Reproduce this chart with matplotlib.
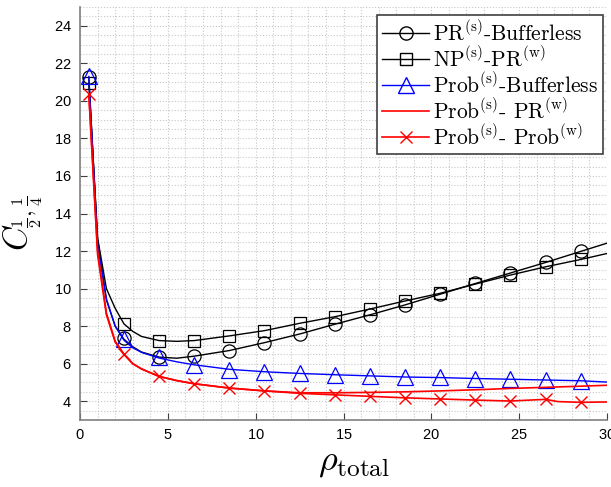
import matplotlib
matplotlib.use('Agg')
import matplotlib.pyplot as plt
from matplotlib.lines import Line2D
from matplotlib.ticker import MultipleLocator

plt.rcParams['mathtext.fontset'] = 'cm'
plt.rcParams['axes.formatter.use_mathtext'] = True

# x positions of the curves and of the markers
x_line = [0.5, 1, 1.5, 2, 2.5, 3, 3.5, 4.5, 5.5, 6.5, 8.5, 10.5, 12.5, 14.5,
          16.5, 18.5, 20.5, 22.5, 24.5, 26.5, 28.5, 30]
x_mark = [0.5, 2.5, 4.5, 6.5, 8.5, 10.5, 12.5, 14.5, 16.5, 18.5, 20.5, 22.5,
          24.5, 26.5, 28.5]

# PR(s)-Bufferless
pr_buf_line = [21.25, 12.6, 9.4, 8.0, 7.3, 6.9, 6.62, 6.35, 6.29, 6.4, 6.7, 7.12,
               7.58, 8.1, 8.6, 9.13, 9.7, 10.27, 10.83, 11.39, 11.98, 12.42]
pr_buf_mark = [21.25, 7.35, 6.35, 6.42, 6.7, 7.12, 7.58, 8.12, 8.59, 9.12, 9.71,
               10.28, 10.84, 11.39, 11.99]

# NP(s)-PR(w)
np_pr_line = [20.95, 12.7, 10.0, 8.95, 8.12, 7.72, 7.45, 7.23, 7.19, 7.23, 7.48,
              7.76, 8.15, 8.5, 8.91, 9.34, 9.75, 10.24, 10.72, 11.16, 11.55, 11.87]
np_pr_mark = [20.95, 8.12, 7.23, 7.23, 7.48, 7.76, 8.17, 8.5, 8.91, 9.34, 9.75,
              10.24, 10.72, 11.16, 11.55]

# Prob(s)-Bufferless
prob_buf_line = [21.3, 12.3, 9.45, 8.0, 7.25, 6.85, 6.6, 6.3, 6.1, 5.94, 5.7, 5.57,
                 5.48, 5.41, 5.35, 5.29, 5.26, 5.21, 5.17, 5.13, 5.09, 5.02]
prob_buf_mark = [21.3, 7.3, 6.35, 5.94, 5.67, 5.58, 5.5, 5.41, 5.35, 5.28, 5.27,
                 5.21, 5.18, 5.14, 5.1]

# Prob(s)- PR(w)
prob_pr_line = [20.35, 12.0, 8.7, 7.2, 6.5, 6.0, 5.72, 5.32, 5.1, 4.93, 4.7, 4.55,
                4.45, 4.45, 4.47, 4.5, 4.55, 4.61, 4.68, 4.74, 4.8, 4.85]

# Prob(s)- Prob(w)
x_pp = [0.5, 1, 1.5, 2, 2.5, 3, 3.5, 4.5, 5.5, 6.5, 8.5, 10.5, 12.5, 14.5, 16.5,
        18.5, 20.5, 22.5, 24.5, 26.5, 27.2, 28.5, 30]
prob_prob_line = [20.35, 11.8, 8.6, 7.15, 6.5, 6.0, 5.72, 5.32, 5.1, 4.93, 4.7, 4.55,
                  4.42, 4.34, 4.26, 4.18, 4.12, 4.06, 4.01, 4.1, 3.98, 3.94, 3.96]
prob_prob_mark = [20.35, 6.5, 5.32, 4.93, 4.7, 4.55, 4.42, 4.34, 4.26, 4.17, 4.12,
                  4.06, 4.01, 4.12, 3.94]

fig = plt.figure(figsize=(6.11, 4.87), dpi=100)
ax = fig.add_axes([0.131, 0.1376, 0.8625, 0.848])

ax.plot(x_line, pr_buf_line, color='k', lw=1)
ax.plot(x_mark, pr_buf_mark, 'o', mfc='none', mec='k', ms=9.5, mew=0.9)
ax.plot(x_line, np_pr_line, color='k', lw=1)
ax.plot(x_mark, np_pr_mark, 's', mfc='none', mec='k', ms=8, mew=0.9)
ax.plot(x_line, prob_buf_line, color='b', lw=1)
ax.plot(x_mark, prob_buf_mark, '^', mfc='none', mec='b', ms=11, mew=0.9)
ax.plot(x_line, prob_pr_line, color='r', lw=1.2)
ax.plot(x_pp, prob_prob_line, color='r', lw=1.2)
ax.plot(x_mark, prob_prob_mark, 'x', color='r', ms=8, mew=1)

ax.set_xlim(0, 30)
ax.set_ylim(3, 25)
ax.set_xticks(range(0, 31, 5))
ax.set_yticks(range(4, 25, 2))
ax.xaxis.set_minor_locator(MultipleLocator(1))
ax.yaxis.set_minor_locator(MultipleLocator(0.5))
ax.grid(True, which='both', linestyle=':', color='#c8c8c8', lw=0.8)
ax.set_axisbelow(True)

for s in ['top', 'right']:
    ax.spines[s].set_visible(False)
for s in ['left', 'bottom']:
    ax.spines[s].set_color('#808080')
    ax.spines[s].set_linewidth(1.2)
ax.tick_params(which='major', direction='in', length=5, color='#404040',
               labelsize=10.5, pad=6)
ax.tick_params(which='minor', length=0)
for lab in ax.get_xticklabels() + ax.get_yticklabels():
    lab.set_family('Liberation Sans')

ax.set_xlabel(r'$\rho_{\mathrm{total}}$', fontsize=26)
ax.xaxis.set_label_coords(0.52, -0.06)
ax.set_ylabel(r'$C_{\frac{1}{2},\frac{1}{4}}$', fontsize=24)
ax.yaxis.set_label_coords(-0.066, 0.477)

handles = [
    Line2D([], [], color='k', lw=1, marker='o', mfc='none', ms=9.5),
    Line2D([], [], color='k', lw=1, marker='s', mfc='none', ms=8),
    Line2D([], [], color='b', lw=1, marker='^', mfc='none', ms=11),
    Line2D([], [], color='r', lw=1.2),
    Line2D([], [], color='r', lw=1.2, marker='x', ms=8),
]
labels = [
    r'PR$^{(\mathrm{s})}$-Bufferless',
    r'NP$^{(\mathrm{s})}$-PR$^{(\mathrm{w})}$',
    r'Prob$^{(\mathrm{s})}$-Bufferless',
    r'Prob$^{(\mathrm{s})}$- PR$^{(\mathrm{w})}$',
    r'Prob$^{(\mathrm{s})}$- Prob$^{(\mathrm{w})}$',
]
leg = ax.legend(handles, labels, loc='upper right',
                bbox_to_anchor=(1 - 4 / 527, 1 - 8 / 413), borderaxespad=0,
                fancybox=False, framealpha=1, edgecolor='#404040',
                handlelength=2.2, handletextpad=0.15, labelspacing=0.08,
                prop={'family': 'cmr10', 'size': 15.5}, borderpad=0.25)
leg.get_frame().set_linewidth(1.2)

fig.savefig('out.png', dpi=100)
